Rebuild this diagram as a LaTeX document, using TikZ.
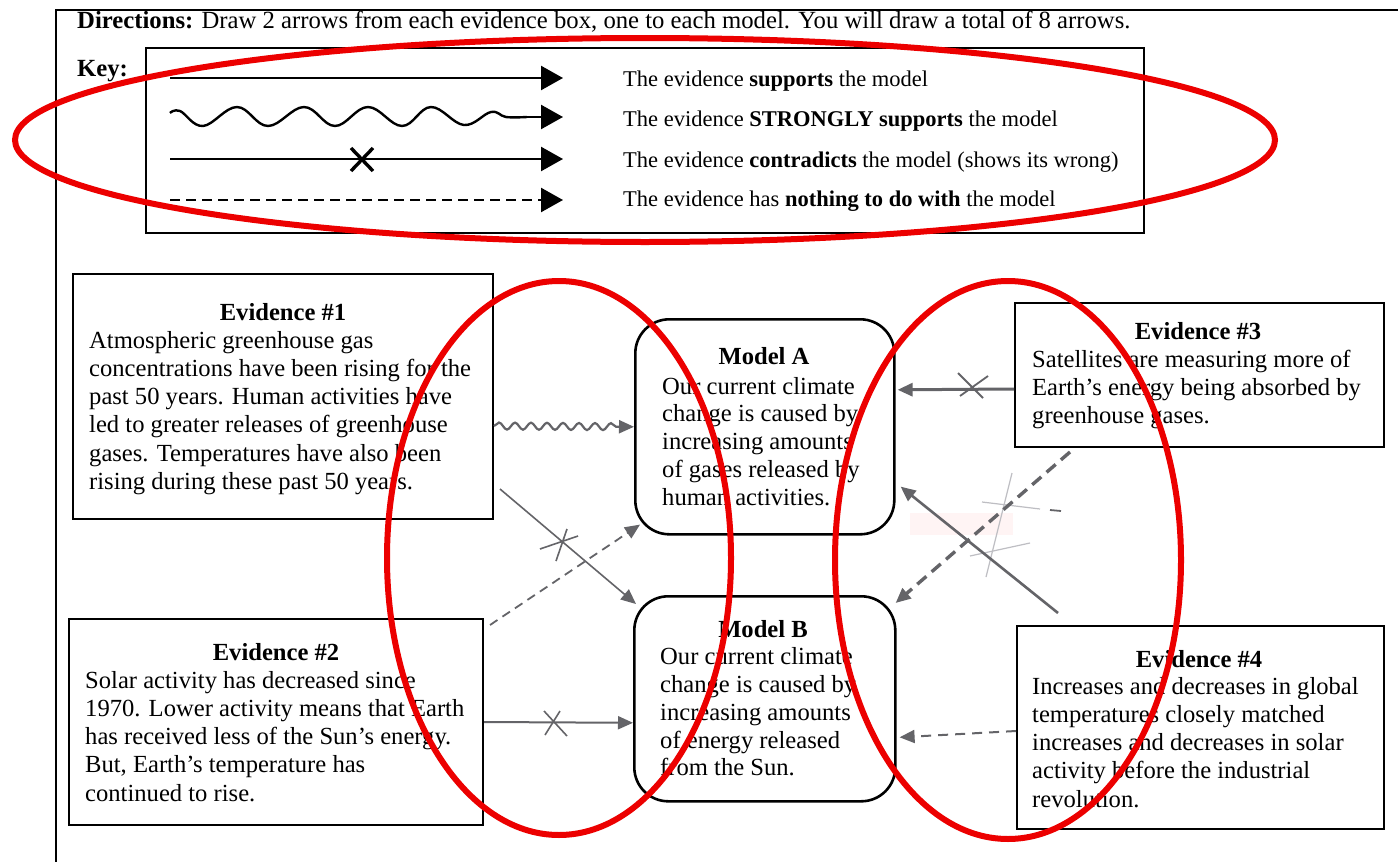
\documentclass[tikz,border=0pt]{standalone}
\usepackage{fontspec}
\setmainfont{Liberation Serif}
\usetikzlibrary{arrows.meta,decorations.pathmorphing}
\newcommand\evfont{\fontsize{24.6}{28.2}\selectfont}
\newcommand\mdfont{\fontsize{24.6}{27.8}\selectfont}
\newcommand\kyfont{\fontsize{22.5}{26}\selectfont}
\newcommand\drfont{\fontsize{24.7}{28}\selectfont}
\definecolor{redmark}{RGB}{236,0,0}
\definecolor{pencil}{RGB}{100,100,104}
\definecolor{faintpencil}{RGB}{190,190,195}
\begin{document}
\begin{tikzpicture}[x=1pt,y=-1pt,
  box/.style={draw=black, line width=2pt, anchor=north west, inner sep=0pt},
  modelbox/.style={box, rounded corners=34pt, line width=2.6pt},
  evtitle/.style={anchor=base, inner sep=0pt, font=\evfont\bfseries},
  evbody/.style={anchor=north west, inner sep=0pt, align=left, font=\evfont},
  mdbody/.style={anchor=north west, inner sep=0pt, align=left, font=\mdfont},
  keytext/.style={anchor=base west, inner sep=0pt, font=\kyfont},
  keyline/.style={draw=black, line width=2.4pt},
  keytip/.style={-{Triangle[length=22pt,width=24pt]}},
  pen/.style={draw=pencil, line width=2pt, -{Triangle[length=15pt,width=13pt]}},
  penx/.style={draw=pencil, line width=1.6pt},
  faint/.style={draw=faintpencil, line width=1.2pt},
  ring/.style={draw=redmark, line width=6pt}
]
\useasboundingbox (0,0) rectangle (1398,862);
\fill[white] (0,0) rectangle (1398,862);

% page frame
\coordinate (frameTL) at (56,10);
\coordinate (frameTR) at (1398,10);
\coordinate (frameBL) at (56,862);
\draw[line width=2.4pt] (frameTR) -- (frameTL) -- (frameBL);

% directions
\node[anchor=base west, inner sep=0pt, font=\drfont] (dir) at (77,28)
  {\textbf{Directions:} Draw 2 arrows from each evidence box, one to each model. You will draw a total of 8 arrows.};
\node[anchor=base west, inner sep=0pt, font=\drfont\bfseries] (keylbl) at (77,76) {Key:};

% key box
\node[box, minimum width=998pt, minimum height=185pt] (key) at (145,47) {};
\coordinate (k1s) at (170,78);  \coordinate (k1e) at (563,78);
\coordinate (k2s) at (527,117); \coordinate (k2e) at (563,117);
\coordinate (k3s) at (170,159); \coordinate (k3e) at (563,159);
\coordinate (k4s) at (170,200); \coordinate (k4e) at (563,200);
\draw[keyline, keytip] (k1s) -- (k1e);
\draw[keyline] plot[smooth, tension=0.65] coordinates {(170,113) (180,111) (203,126) (237,107) (268,126) (304,107) (335,126) (368,107) (402,126) (431,107) (464,125) (491,112) (506,117) (527,117)};
\draw[keyline, keytip] (k2s) -- (k2e);
\draw[keyline, keytip] (k3s) -- (k3e);
\draw[line width=3.4pt] (351,148) -- (373,171) (373,148) -- (351,171);
\draw[keyline, dash pattern=on 10pt off 6pt, keytip] (k4s) -- (k4e);
\node[keytext] (kt1) at (623,86) {The evidence \textbf{supports} the model};
\node[keytext] (kt2) at (623,126) {The evidence \textbf{STRONGLY supports} the model};
\node[keytext] (kt3) at (623,167) {The evidence \textbf{contradicts} the model (shows its wrong)};
\node[keytext] (kt4) at (623,206) {The evidence has \textbf{nothing to do with} the model};

% evidence boxes
\node[box, minimum width=420pt, minimum height=245pt] (ev1) at (72,273) {};
\node[evtitle] (ev1t) at (283,320) {Evidence \#1};
\node[evbody] (ev1b) at (89,328.3) {\strut Atmospheric greenhouse gas\\concentrations have been rising for the\\past 50 years. Human activities have\\led to greater releases of greenhouse\\gases. Temperatures have also been\\rising during these past 50 years.};

\node[box, minimum width=414pt, minimum height=206pt] (ev2) at (68,618) {};
\node[evtitle] (ev2t) at (276,660) {Evidence \#2};
\node[evbody] (ev2b) at (85,668.3) {\strut Solar activity has decreased since\\1970. Lower activity means that Earth\\has received less of the Sun’s energy.\\But, Earth’s temperature has\\continued to rise.};

\node[box, minimum width=369pt, minimum height=144pt] (ev3) at (1014,302) {};
\node[evtitle] (ev3t) at (1198,339) {Evidence \#3};
\node[evbody] (ev3b) at (1032,347.3) {\strut Satellites are measuring more of\\Earth’s energy being absorbed by\\greenhouse gases.};

\node[box, minimum width=367pt, minimum height=203pt] (ev4) at (1016,625) {};
\node[evtitle] (ev4t) at (1199,667) {Evidence \#4};
\node[evbody] (ev4b) at (1032,674.3) {\strut Increases and decreases in global\\temperatures closely matched\\increases and decreases in solar\\activity before the industrial\\revolution.};

% model boxes
\node[modelbox, minimum width=259pt, minimum height=215pt] (modelA) at (634,318) {};
\node[evtitle] (mAt) at (764,364) {Model A};
\node[mdbody] (mAb) at (662,374.5) {\strut Our current climate\\change is caused by\\increasing amounts\\of gases released by\\human activities.};

\node[modelbox, minimum width=261pt, minimum height=205pt] (modelB) at (633,595) {};
\node[evtitle] (mBt) at (763,637) {Model B};
\node[mdbody] (mBb) at (660,645) {\strut Our current climate\\change is caused by\\increasing amounts\\of energy released\\from the Sun.};

% faint pencil marks
\fill[red!8, opacity=0.5] (910,513) rectangle (1013,535);
\draw[faint] (1012,473) -- (986,577);
\draw[faint] (982,502) -- (1040,509);
\draw[pencil, line width=1.8pt] (1050,510) -- (1061,511);
\draw[faint] (970,556) -- (1030,543);

% hand-drawn arrows
\draw[pen, line width=2.2pt, decorate, decoration={snake, amplitude=3.5pt, segment length=16pt, post length=16pt}]
  ([yshift=-29.5pt]ev1.east) -- (modelA.west);
\draw[pen, line width=1.6pt] ([xshift=6pt,yshift=-92.5pt]ev1.east) -- ([xshift=3pt,yshift=-9pt]modelB.north west);
\draw[penx] (540,549) -- (578,536) (567,529) -- (556,561);
\draw[pen, line width=1.8pt, dash pattern=on 9pt off 6pt] ([xshift=6pt,yshift=-7pt]ev2.north east) -- ([xshift=6pt,yshift=11pt]modelA.south west);
\draw[pen] (ev2.east) -- ([yshift=-24pt]modelB.west);
\draw[penx] (544,711) -- (567,736) (560,711) -- (545,735);
\draw[pen, line width=3pt] ([yshift=-14pt]ev3.west) -- ([xshift=2pt,yshift=37pt]modelA.east);
\draw[penx, line width=1.8pt] (958,373) -- (983,398) (988,376) -- (960,396);
\draw[pen, line width=3.4pt, dash pattern=on 12pt off 7pt] ([xshift=56pt,yshift=-4pt]ev3.south west) -- ([xshift=-1pt,yshift=-8pt]modelB.north east);
\draw[pen, line width=2.6pt] ([xshift=42pt,yshift=12pt]ev4.north west) -- ([xshift=5pt,yshift=49pt]modelA.south east);
\draw[pen, dash pattern=on 10pt off 7pt] ([yshift=-3.5pt]ev4.west) -- ([xshift=3pt,yshift=-38.5pt]modelB.east);

% red ellipses
\draw[ring] (645,140) ellipse [x radius=630, y radius=102];
\draw[ring] (559,558) ellipse [x radius=172, y radius=277];
\draw[ring] (1008,560) ellipse [x radius=173, y radius=279];
\end{tikzpicture}
\end{document}
